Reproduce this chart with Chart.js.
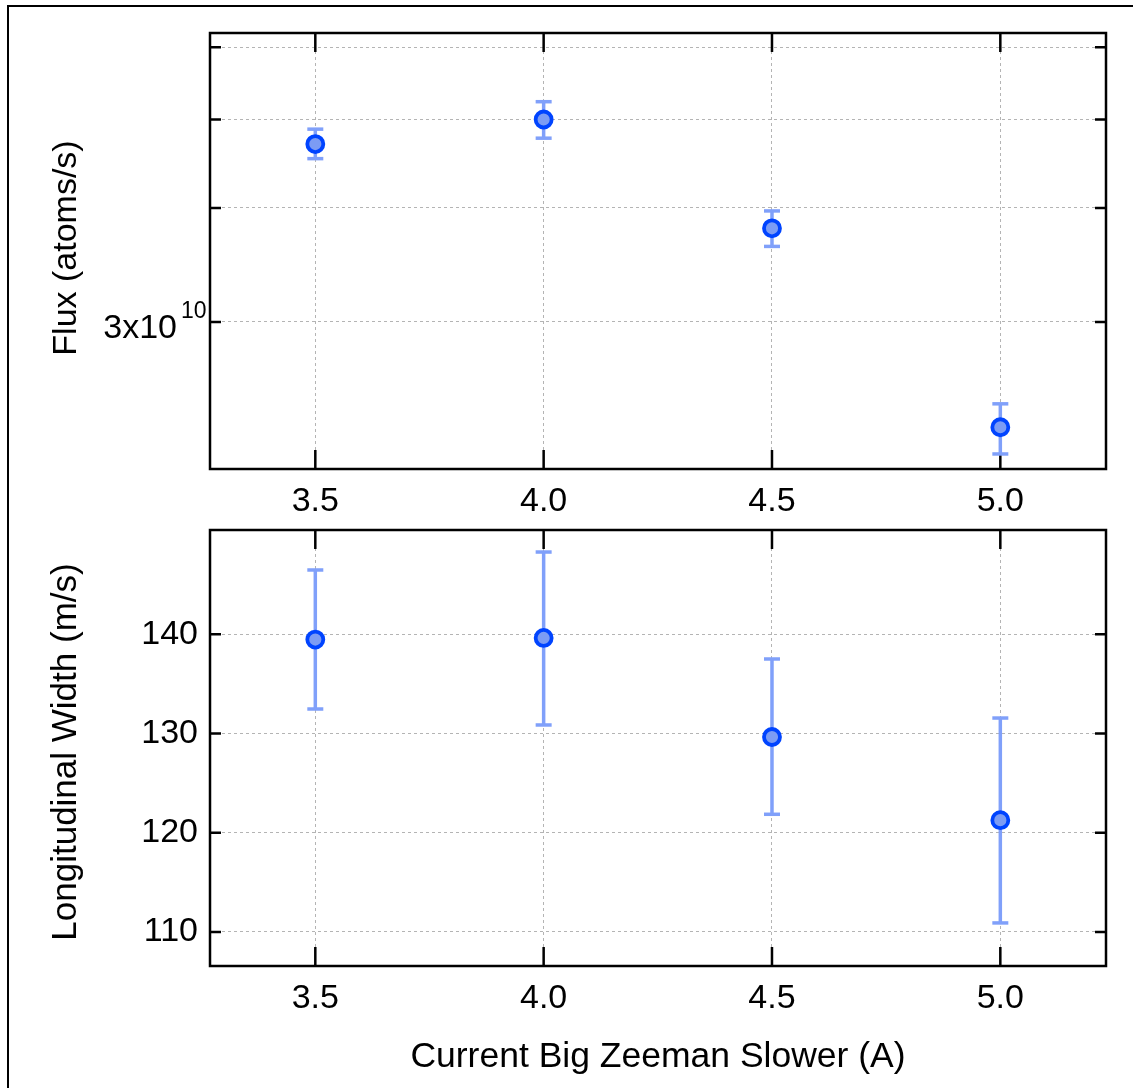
<!DOCTYPE html>
<html>
<head>
<meta charset="utf-8">
<script src="https://cdn.jsdelivr.net/npm/chart.js@4.4.1/dist/chart.umd.min.js"></script>
<style>
  html, body { margin: 0; padding: 0; background: #fff; overflow: hidden; }
  #page { position: relative; width: 1133px; height: 1088px; font-family: "Liberation Sans", Arial, sans-serif; color: #000; }
  #page canvas { position: absolute; left: 0; top: 0; }
  .frame { position: absolute; left: 7px; top: 5px; width: 1200px; height: 1200px; border-left: 2px solid #000; border-top: 2px solid #000; }
  .title { position: absolute; font-size: 35px; white-space: nowrap; transform: translate(-50%, -50%); }
  .title.y { transform: translate(-50%, -50%) rotate(-90deg); }
</style>
</head>
<body>
<div id="page">
  <div class="frame"></div>
  <canvas id="fluxChart" width="1133" height="1088"></canvas>
  <canvas id="widthChart" width="1133" height="1088"></canvas>
  <div class="title y" style="left:64px; top:248px; font-size:34px;">Flux (atoms/s)</div>
  <div class="title y" style="left:64px; top:752px;">Longitudinal Width (m/s)</div>
  <div class="title" style="left:658px; top:1055px; font-size:35.5px;">Current Big Zeeman Slower (A)</div>
</div>
<script>
// data
const currents = [3.5, 4.0, 4.5, 5.0];
const flux = [4.70e10, 5.00e10, 3.80e10, 2.30e10];
const fluxLow = [4.53e10, 4.77e10, 3.63e10, 2.15e10];
const fluxHigh = [4.88e10, 5.23e10, 3.97e10, 2.44e10];
const widths = [139.47, 139.63, 129.65, 121.27];
const widthLow = [132.47, 130.86, 121.86, 110.91];
const widthHigh = [146.48, 148.29, 137.51, 131.56];
const xTicks = [3.5, 4.0, 4.5, 5.0];
const fluxTicks = [3e10, 4e10, 5e10, 6e10];
const widthTicks = [110, 120, 130, 140];

const FONT = "'Liberation Sans', Arial, sans-serif";
const markerLine = "#0044ff";
const markerFill = "#7c9cf4";
const errColor = "#80a0fa";
const gridColor = "#b4b4b4";

Chart.defaults.color = "#000";
Chart.defaults.font.family = FONT;

// box around the plot plus inward ticks on all four sides
const frameTicks = {
    id: "frameTicks",
    beforeDatasetsDraw(chart) {
        const { ctx, chartArea: a, scales: { x, y } } = chart;
        ctx.save();
        ctx.strokeStyle = "#000";
        ctx.lineWidth = 2.5;
        ctx.beginPath();
        x.ticks.forEach(t => {
            const px = x.getPixelForValue(t.value);
            ctx.moveTo(px, a.bottom); ctx.lineTo(px, a.bottom - 19);
            ctx.moveTo(px, a.top); ctx.lineTo(px, a.top + 19);
        });
        y.ticks.forEach(t => {
            const py = y.getPixelForValue(t.value);
            ctx.moveTo(a.left, py); ctx.lineTo(a.left + 11, py);
            ctx.moveTo(a.right, py); ctx.lineTo(a.right - 11, py);
        });
        ctx.stroke();
        ctx.strokeRect(a.left, a.top, a.right - a.left, a.bottom - a.top);
        ctx.restore();
    }
};

// exponent for the 3x10^10 label
const exponent = {
    id: "exponent",
    afterDraw(chart) {
        const { ctx, scales: { y } } = chart;
        const py = y.getPixelForValue(3e10);
        ctx.save();
        ctx.fillStyle = "#000";
        ctx.font = "23px " + FONT;
        ctx.textAlign = "left";
        ctx.textBaseline = "alphabetic";
        ctx.fillText("10", 181, py - 4);
        ctx.restore();
    }
};

function errorPoints(lo, hi) {
    const pts = [];
    currents.forEach((c, i) => {
        pts.push({ x: c, y: lo[i] }, { x: c, y: hi[i] }, { x: c, y: null });
    });
    return pts;
}

function noPad(s) {
    s.paddingTop = 0; s.paddingBottom = 0; s.paddingLeft = 0; s.paddingRight = 0;
}

function makeChart(id, opts) {
    return new Chart(document.getElementById(id), {
        type: "scatter",
        data: {
            datasets: [
                {
                    data: currents.map((c, i) => ({ x: c, y: opts.values[i] })),
                    pointRadius: 8,
                    pointBorderWidth: 3.8,
                    pointBackgroundColor: markerFill,
                    pointBorderColor: markerLine,
                    order: 0
                },
                {
                    data: errorPoints(opts.low, opts.high),
                    showLine: true,
                    spanGaps: false,
                    borderColor: errColor,
                    borderWidth: 3.5,
                    pointStyle: "line",
                    pointRadius: 8,
                    pointBorderWidth: 3.5,
                    pointBorderColor: errColor,
                    order: 1
                }
            ]
        },
        options: {
            responsive: false,
            animation: false,
            layout: { padding: opts.padding },
            plugins: { legend: { display: false }, tooltip: { enabled: false } },
            scales: {
                x: {
                    type: "linear",
                    min: 3.2694,
                    max: 5.2314,
                    afterBuildTicks: s => { s.ticks = xTicks.map(v => ({ value: v })); },
                    afterFit: s => { s.height = 80; noPad(s); },
                    grid: { color: gridColor, lineWidth: 1, drawTicks: false },
                    border: { display: false, dash: [3, 3] },
                    ticks: {
                        font: { size: 34 },
                        padding: 12,
                        maxRotation: 0,
                        callback: v => Number(v).toFixed(1)
                    }
                },
                y: {
                    type: opts.yType,
                    min: opts.yMin,
                    max: opts.yMax,
                    afterBuildTicks: s => { s.ticks = opts.yTicks.map(v => ({ value: v })); },
                    afterFit: s => { s.width = 210; noPad(s); },
                    grid: { color: gridColor, lineWidth: 1, drawTicks: false },
                    border: { display: false, dash: [3, 3] },
                    ticks: opts.yTickOpts
                }
            }
        },
        plugins: opts.plugins
    });
}

makeChart("fluxChart", {
    values: flux, low: fluxLow, high: fluxHigh,
    yType: "logarithmic", yMin: 2.07e10, yMax: 6.22e10, yTicks: fluxTicks,
    padding: { left: 0, right: 27, top: 33, bottom: 539 },
    yTickOpts: {
        font: { size: 34, lineHeight: "14px" },
        padding: 33,
        callback: v => (v === 3e10 ? ["", "3x10"] : "")
    },
    plugins: [frameTicks, exponent]
});

makeChart("widthChart", {
    values: widths, low: widthLow, high: widthHigh,
    yType: "linear", yMin: 106.57, yMax: 150.51, yTicks: widthTicks,
    padding: { left: 0, right: 27, top: 530, bottom: 42 },
    yTickOpts: {
        font: { size: 34 },
        padding: 12,
        callback: v => String(v)
    },
    plugins: [frameTicks]
});
</script>
</body>
</html>
